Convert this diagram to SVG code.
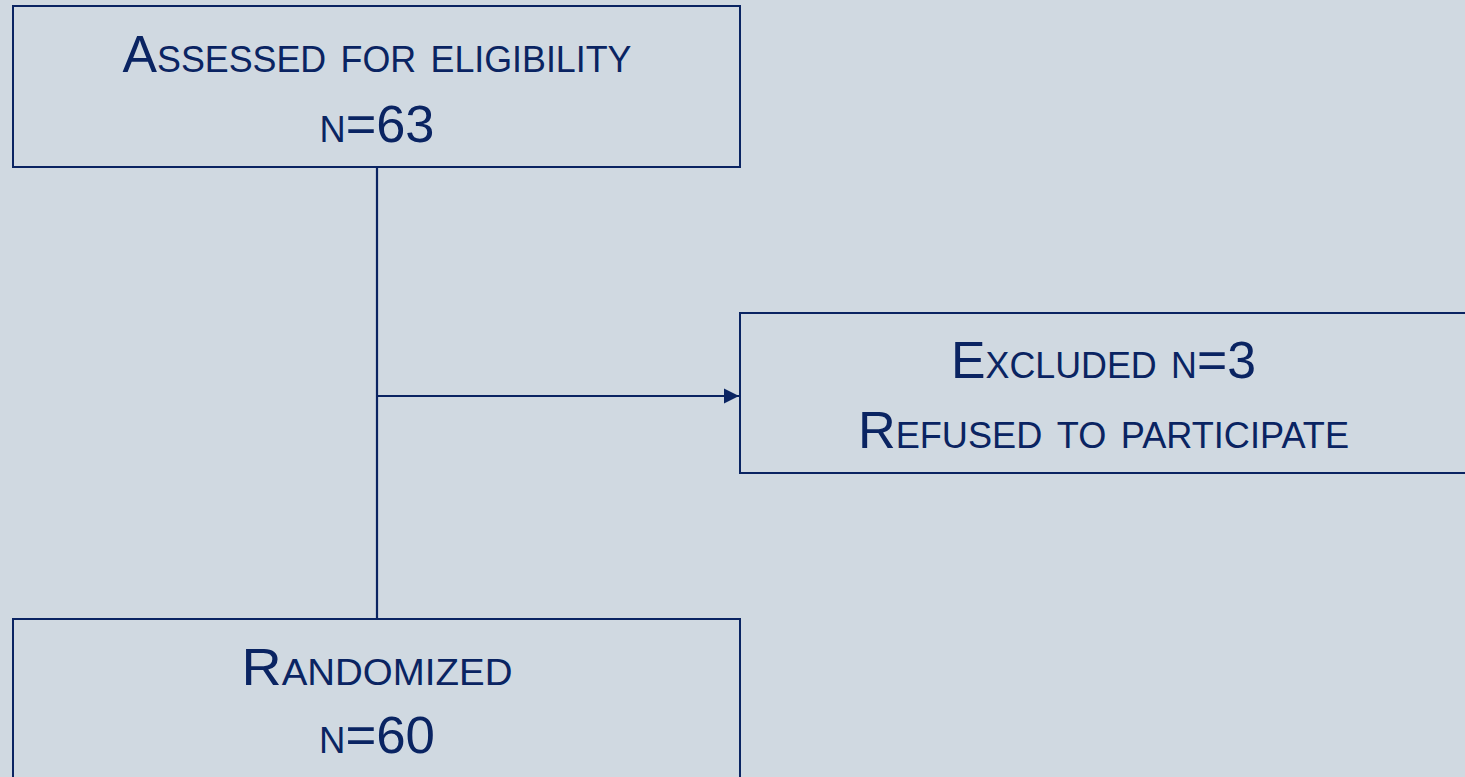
<svg xmlns="http://www.w3.org/2000/svg" width="1465" height="777" viewBox="0 0 1465 777">
<style>
.box{fill:none;stroke:#0a2462;stroke-width:2}
.t{font-family:"Liberation Sans",Arial,sans-serif;font-size:52px;font-variant:small-caps;fill:#0a2462;text-anchor:middle}
.ln{stroke:#0a2462;stroke-width:2.2;fill:none}
</style>
<defs>
<marker id="arr" viewBox="0 0 10 10" refX="10" refY="5" markerWidth="7" markerHeight="7" markerUnits="strokeWidth" orient="auto">
<path d="M0,0 L10,5 L0,10 z" fill="#0a2462"/>
</marker>
</defs>
<rect x="0" y="0" width="1465" height="777" fill="#d0d9e1"/>
<g id="connectors">
<line class="ln" x1="377" y1="167" x2="377" y2="619"/>
<line class="ln" x1="377" y1="396" x2="739" y2="396" marker-end="url(#arr)"/>
</g>
<g id="assessed">
<rect class="box" x="13" y="6" width="727" height="161"/>
<text class="t" x="377" y="72" textLength="509" lengthAdjust="spacingAndGlyphs">Assessed for eligibility</text>
<text class="t" x="377" y="142" textLength="115" lengthAdjust="spacingAndGlyphs">n=63</text>
</g>
<g id="excluded">
<rect class="box" x="740" y="313" width="727" height="160"/>
<text class="t" x="1103.5" y="378" textLength="305" lengthAdjust="spacingAndGlyphs">Excluded n=3</text>
<text class="t" x="1103.5" y="448" textLength="491" lengthAdjust="spacingAndGlyphs">Refused to participate</text>
</g>
<g id="randomized">
<rect class="box" x="13" y="619" width="727" height="170"/>
<text class="t" x="377" y="685" textLength="271" lengthAdjust="spacingAndGlyphs">Randomized</text>
<text class="t" x="377" y="753" textLength="116" lengthAdjust="spacingAndGlyphs">n=60</text>
</g>
</svg>
